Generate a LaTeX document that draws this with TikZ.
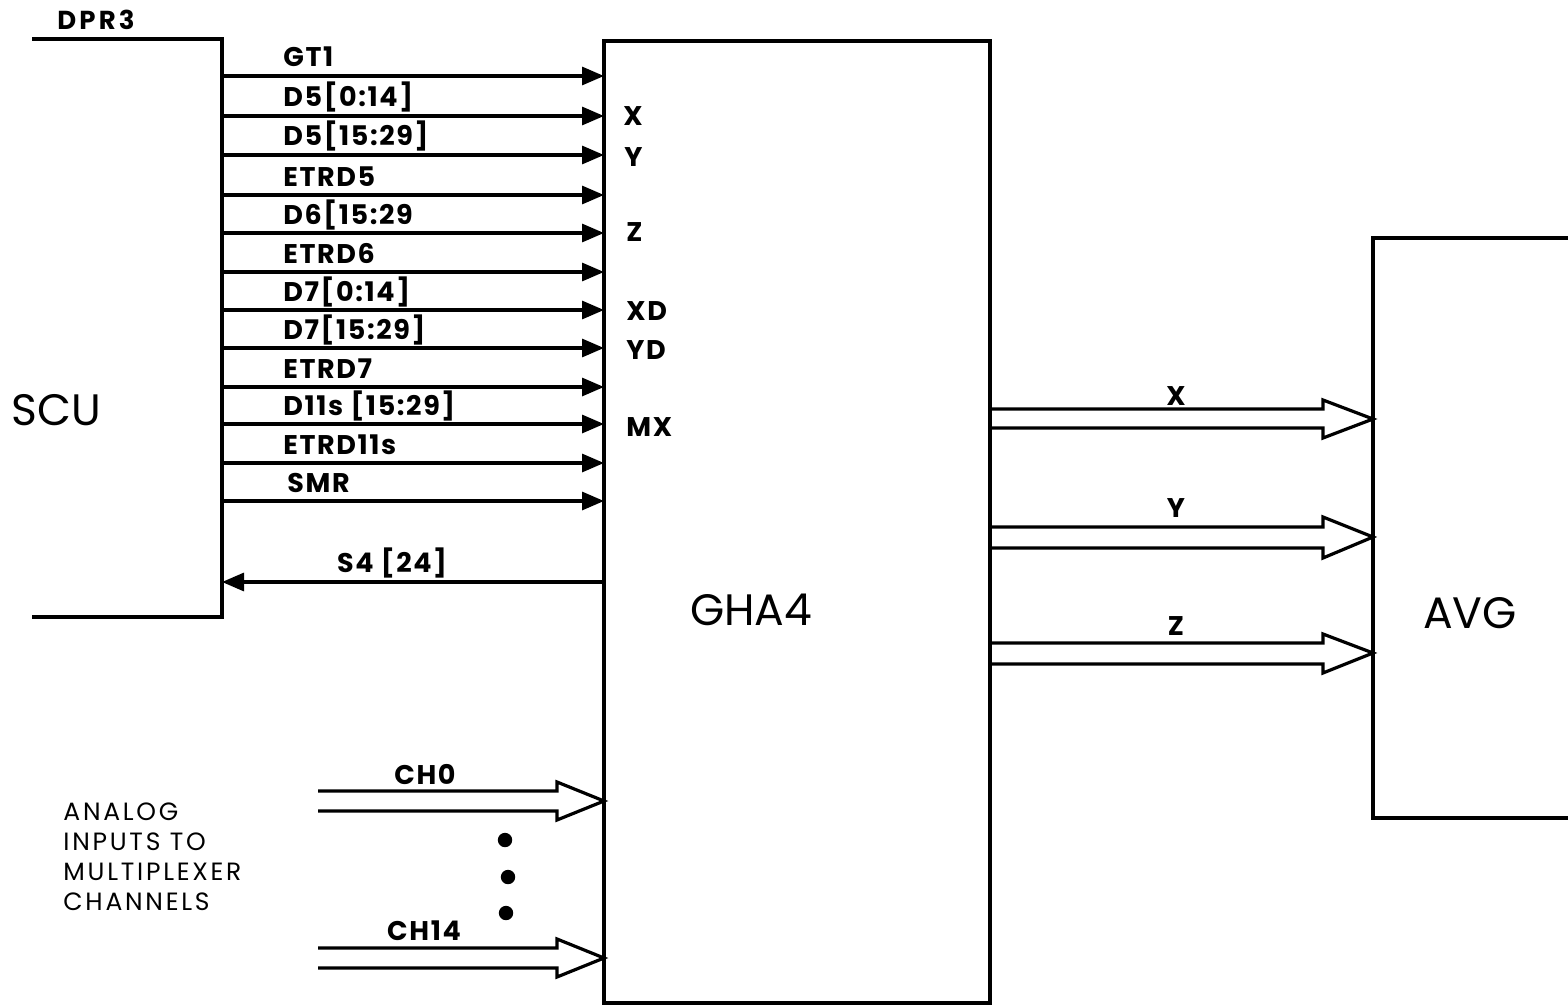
\documentclass[tikz,border=0pt]{standalone}
\usepackage{fontspec}
\setmainfont{Poppins}
\newfontfamily\lblfont[LetterSpace=6]{Poppins}
\newfontfamily\anafont[LetterSpace=11]{Poppins}
\usetikzlibrary{arrows.meta,fit}
\tikzset{
  frame/.style={inner sep=0pt, outer sep=0pt},
  outline/.style={line width=1.6pt, line join=miter, line cap=butt},
  sig/.style={line width=1.6pt, -{Triangle[length=11pt,width=9pt]}},
  bus/.style={line width=1.6pt, line join=miter},
  lbl/.style={font={\lblfont\bfseries\fontsize{13.5}{15}\selectfont}, inner sep=0pt, anchor=base west},
  clbl/.style={lbl, anchor=base},
  big/.style={font={\fontsize{22}{26}\selectfont}, inner sep=0pt},
  ana/.style={font={\anafont\fontsize{12.5}{14}\selectfont}, inner sep=0pt, anchor=base west},
}
\begin{document}
\begin{tikzpicture}[x=0.5pt,y=-0.5pt]
\useasboundingbox (0,0) rectangle (1568,1006);
\fill[white] (0,0) rectangle (1568,1006);

% blocks
\node[frame, fit={(32,39) (222,617)}] (scu) {};
\draw[outline] (scu.north west) -- (scu.north east) -- (scu.south east) -- (scu.south west);
\node[frame, fit={(604,41) (990,1003)}, draw, line width=1.6pt] (gha) {};
\node[frame, fit={(1373,238) (1568,818)}] (avg) {};
\draw[outline] (avg.north east) -- (avg.north west) -- (avg.south west) -- (avg.south east);

\node[big] (scut) at (56,410) {SCU};
\node[big] (ghat) at (751,610) {GHA4};
\node[big] (avgt) at (1470,613) {AVG};
\node[lbl, font={\fontspec[LetterSpace=12]{Poppins}\bfseries\fontsize{13}{15}\selectfont}] (dpr) at (57,30) {DPR3};

% signals SCU -> GHA4
\foreach \y/\x/\t [count=\i] in {76/283/{GT1}, 116/283/{D5[0:14]}, 155/283/{D5[15:29]}, 195/283/{ETRD5}, 233/283/{D6[15:29}, 272/283/{ETRD6}, 310/283/{D7[0:14]}, 348/283/{D7[15:29]}, 387/283/{ETRD7}, 424/283/{D11s [15:29]}, 463/283/{ETRD11s}, 501/287/{SMR}}{
  \node[lbl] (s\i) at (\x,\y-9) {\t};
  \draw[sig] (scu.east |- 0,\y) -- (gha.west |- 0,\y);
}

% S4 back to SCU
\node[clbl] (s4t) at (392,572) {S4 [24]};
\draw[sig] (gha.west |- 0,582) -- (scu.east |- 0,582);

% pin labels inside GHA4
\node[lbl] (px) at (623,126) {X};
\node[lbl] (py) at (624,166) {Y};
\node[lbl] (pz) at (626,241) {Z};
\node[lbl] (pxd) at (626,320) {XD};
\node[lbl] (pyd) at (626,359) {YD};
\node[lbl] (pmx) at (626,436) {MX};

% wide buses GHA4 -> AVG
\draw[bus] (gha.east |- 0,409) -- (1323,409) -- (1323,400) -- (avg.west |- 0,419) -- (1323,438) -- (1323,428) -- (gha.east |- 0,428);
\draw[bus] (gha.east |- 0,527) -- (1323,527) -- (1323,517) -- (avg.west |- 0,537) -- (1323,558) -- (1323,548) -- (gha.east |- 0,548);
\draw[bus] (gha.east |- 0,643) -- (1323,643) -- (1323,634) -- (avg.west |- 0,653) -- (1323,673) -- (1323,664) -- (gha.east |- 0,664);
\node[clbl] (bx) at (1176,405) {X};
\node[clbl] (by) at (1176,517) {Y};
\node[clbl] (bz) at (1176,635) {Z};

% analog inputs
\coordinate (c0a) at (318,791);
\coordinate (c0b) at (318,811);
\coordinate (c14a) at (318,948);
\coordinate (c14b) at (318,968);
\draw[bus] (c0a) -- (557,791) -- (557,782) -- (gha.west |- 0,801) -- (557,820) -- (557,811) -- (c0b);
\draw[bus] (c14a) -- (557,948) -- (557,939) -- (gha.west |- 0,958) -- (557,977) -- (557,968) -- (c14b);
\node[clbl] (ch0) at (425,784) {CH0};
\node[clbl] (ch14) at (424,940) {CH14};
\fill (505,840) circle (3.6pt);
\fill (508,877) circle (3.6pt);
\fill (506,913) circle (3.6pt);

\node[ana] (an1) at (63,820) {ANALOG};
\node[ana] (an2) at (63,850) {INPUTS TO};
\node[ana] (an3) at (63,880) {MULTIPLEXER};
\node[ana] (an4) at (63,910) {CHANNELS};
\end{tikzpicture}
\end{document}
